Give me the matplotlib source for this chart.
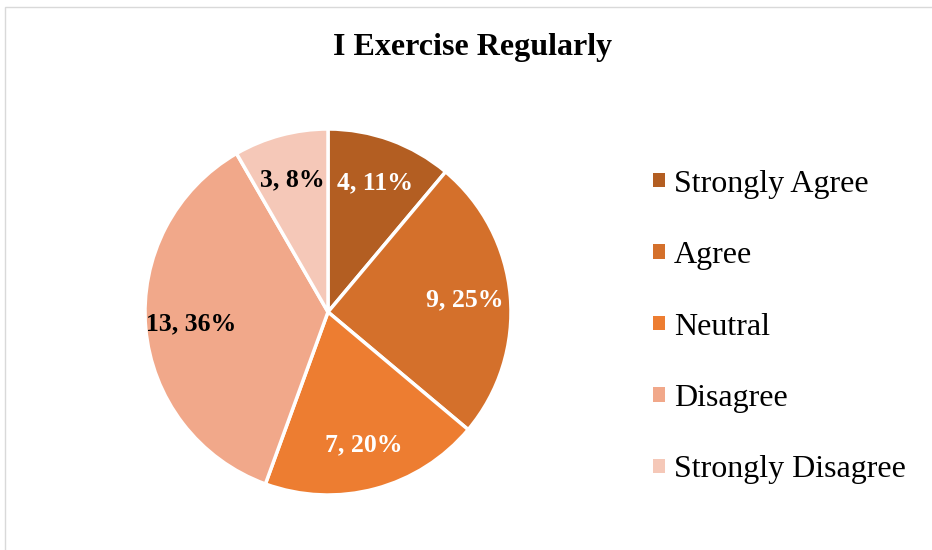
import matplotlib
matplotlib.use("Agg")
import matplotlib.pyplot as plt
from matplotlib.patches import Patch, Rectangle
import numpy as np

categories = ["Strongly Agree", "Agree", "Neutral", "Disagree", "Strongly Disagree"]
counts = [4, 9, 7, 13, 3]
label_texts = ["4, 11%", "9, 25%", "7, 20%", "13, 36%", "3, 8%"]
colors = ["#B35E22", "#D4702B", "#ED7D31", "#F1A88A", "#F5C8B8"]
text_colors = ["white", "white", "white", "black", "black"]
title = "I Exercise Regularly"

plt.rcParams['font.family'] = ['Liberation Serif', 'DejaVu Serif']

W, H = 932, 550
fig = plt.figure(figsize=(W/100, H/100), dpi=100)

# chart border (cropped at right and bottom)
fig.patches.append(Rectangle((5/W, -0.1), 1.2, (H-7)/H + 0.1, transform=fig.transFigure,
                             fill=False, edgecolor="#D9D9D9", linewidth=1.0))

cx, cy, r = 328, 312, 183
ax = fig.add_axes([(cx-r)/W, (H-cy-r)/H, 2*r/W, 2*r/H])
wedges, _ = ax.pie(counts, colors=colors, startangle=90, counterclock=False,
                   radius=1.0, wedgeprops=dict(edgecolor="white", linewidth=2.5))
ax.set_xlim(-1.0, 1.0)
ax.set_ylim(-1.0, 1.0)
ax.set_aspect("auto")
ax.axis("off")

for w, t, tc in zip(wedges, label_texts, text_colors):
    ang = np.deg2rad((w.theta1 + w.theta2) / 2)
    d = 0.75
    ax.text(d*np.cos(ang), d*np.sin(ang), t, ha="center", va="center",
            fontsize=18.5, fontweight="bold", color=tc)

fig.text(473/W, 1 - 48/H, title, ha="center", va="center", fontsize=23, fontweight="bold")

handles = [Patch(facecolor=c, edgecolor="none") for c in colors]
leg = fig.legend(handles, categories, loc="center left", bbox_to_anchor=(653/W, 1 - 327/H),
                 frameon=False, fontsize=23, handlelength=0.36, handleheight=0.33,
                 handletextpad=0.3, labelspacing=1.33, borderaxespad=0, borderpad=0)

fig.savefig("out.png", dpi=100)
